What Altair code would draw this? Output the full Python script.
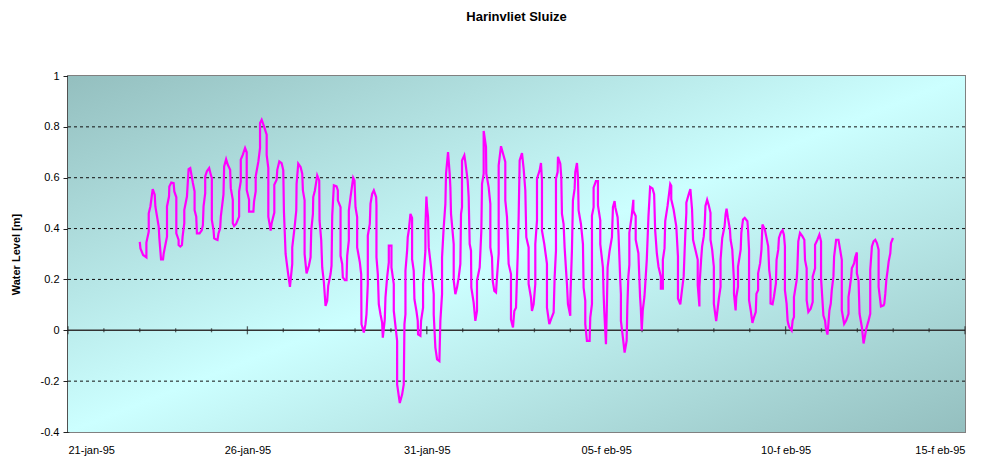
import altair as alt
import pandas as pd

# ---- water level trace (day of January 1995, level in m) ----
days_a = [
    23.000, 23.019, 23.093, 23.185, 23.185, 23.250, 23.250, 23.296, 23.361, 23.417,
    23.435, 23.528, 23.546, 23.593, 23.648, 23.667, 23.759, 23.759, 23.815, 23.824,
    23.880, 23.944, 23.963, 24.019, 24.019, 24.083, 24.083, 24.130, 24.176, 24.194,
    24.241, 24.241, 24.315, 24.361, 24.407, 24.481, 24.528, 24.528, 24.574, 24.593,
    24.667, 24.731, 24.759, 24.778, 24.824, 24.824, 24.870, 24.935, 24.981, 25.009,
    25.009, 25.056, 25.074, 25.120, 25.167, 25.194, 25.241, 25.259, 25.333, 25.352,
    25.407, 25.454, 25.519, 25.537, 25.593, 25.593, 25.630, 25.685, 25.769, 25.769,
    25.815, 25.815, 25.870, 25.935, 25.981, 25.981, 26.046, 26.046, 26.167, 26.185,
    26.231, 26.231, 26.306, 26.352, 26.352, 26.398, 26.463, 26.537, 26.537, 26.583,
    26.583, 26.648, 26.676, 26.750, 26.750, 26.815, 26.833, 26.889, 26.954,
]
levels_a = [
    0.348, 0.322, 0.296, 0.287, 0.345, 0.388, 0.460, 0.487, 0.555, 0.533,
    0.487, 0.408, 0.362, 0.279, 0.279, 0.302, 0.368, 0.487, 0.526, 0.565,
    0.581, 0.579, 0.546, 0.523, 0.381, 0.355, 0.335, 0.329, 0.335, 0.368,
    0.421, 0.473, 0.526, 0.634, 0.638, 0.579, 0.546, 0.473, 0.447, 0.381,
    0.381, 0.394, 0.414, 0.487, 0.539, 0.605, 0.625, 0.638, 0.611, 0.598,
    0.434, 0.394, 0.362, 0.358, 0.355, 0.381, 0.401, 0.447, 0.533, 0.644,
    0.673, 0.651, 0.631, 0.559, 0.513, 0.421, 0.410, 0.418, 0.447, 0.546,
    0.585, 0.671, 0.690, 0.717, 0.700, 0.552, 0.513, 0.467, 0.467, 0.506,
    0.546, 0.605, 0.664, 0.717, 0.815, 0.828, 0.802, 0.769, 0.690, 0.638,
    0.447, 0.392, 0.421, 0.463, 0.572, 0.592, 0.631, 0.664, 0.657,
]

days_b = [
    27.000, 27.019, 27.065, 27.130, 27.186, 27.250, 27.250, 27.315, 27.362, 27.371,
    27.417, 27.482, 27.529, 27.547, 27.594, 27.594, 27.649, 27.714, 27.761, 27.779,
    27.826, 27.835, 27.881, 27.946, 28.002, 28.011, 28.058, 28.085, 28.132, 28.178,
    28.224, 28.252, 28.317, 28.345, 28.364, 28.410, 28.484, 28.521, 28.521, 28.596,
    28.596, 28.642, 28.660, 28.716, 28.763, 28.781, 28.827, 28.827, 28.874, 28.948,
    28.985, 29.013, 29.059, 29.059, 29.134, 29.171, 29.180, 29.245, 29.291, 29.319,
    29.356, 29.356, 29.411, 29.430, 29.477, 29.523, 29.588, 29.597, 29.597, 29.635,
    29.662, 29.709, 29.755, 29.774, 29.829, 29.848, 29.894, 29.941, 29.941, 30.015,
    30.015, 30.080, 30.080, 30.173, 30.173, 30.247, 30.312, 30.358, 30.377, 30.405,
    30.405, 30.451, 30.469, 30.497, 30.544, 30.590, 30.590, 30.636, 30.655, 30.711,
    30.748, 30.757, 30.822, 30.840, 30.896, 30.896, 30.961, 30.961, 30.989, 31.007,
    31.035, 31.054, 31.119, 31.193, 31.193, 31.239, 31.286, 31.351, 31.378, 31.425,
    31.425, 31.471, 31.518, 31.536, 31.592, 31.638, 31.657, 31.675, 31.750, 31.750,
    31.796, 31.842, 31.889, 31.935, 31.954, 31.981, 31.981, 32.046, 32.074, 32.139,
    32.167, 32.195, 32.232, 32.241, 32.306, 32.353,
]
levels_b = [
    0.629, 0.464, 0.300, 0.228, 0.171, 0.261, 0.326, 0.405, 0.471, 0.576,
    0.655, 0.642, 0.616, 0.550, 0.511, 0.300, 0.224, 0.254, 0.287, 0.392,
    0.458, 0.524, 0.550, 0.609, 0.589, 0.432, 0.353, 0.247, 0.188, 0.096,
    0.116, 0.175, 0.221, 0.254, 0.451, 0.570, 0.566, 0.550, 0.511, 0.484,
    0.293, 0.261, 0.208, 0.197, 0.197, 0.293, 0.353, 0.471, 0.524, 0.600,
    0.589, 0.484, 0.445, 0.326, 0.267, 0.221, 0.024, -0.009, 0.024, 0.063,
    0.182, 0.372, 0.418, 0.497, 0.537, 0.550, 0.524, 0.491, 0.287, 0.221,
    0.103, 0.063, 0.030, -0.029, 0.043, 0.129, 0.208, 0.267, 0.333, 0.333,
    0.247, 0.182, 0.076, -0.042, -0.213, -0.286, -0.253, -0.213, 0.024, 0.063,
    0.234, 0.313, 0.366, 0.392, 0.458, 0.442, 0.280, 0.234, 0.122, 0.076,
    0.037, -0.016, -0.022, 0.037, 0.089, 0.182, 0.313, 0.405, 0.526, 0.484,
    0.445, 0.326, 0.247, 0.142, 0.063, -0.068, -0.114, -0.121, 0.037, 0.142,
    0.287, 0.405, 0.497, 0.616, 0.701, 0.616, 0.563, 0.458, 0.339, 0.195,
    0.142, 0.168, 0.208, 0.261, 0.458, 0.484, 0.668, 0.688, 0.662, 0.589,
    0.524, 0.339, 0.313, 0.168, 0.109, 0.037,
]

days_c = [
    32.399, 32.399, 32.474, 32.520, 32.539, 32.585, 32.585, 32.650, 32.659, 32.724,
    32.771, 32.771, 32.817, 32.836, 32.882, 32.929, 32.956, 33.003, 33.003, 33.068,
    33.124, 33.188, 33.188, 33.235, 33.281, 33.346, 33.346, 33.402, 33.439, 33.486,
    33.513, 33.532, 33.560, 33.588, 33.653, 33.699, 33.746, 33.773, 33.838, 33.838,
    33.903, 33.931, 33.978, 34.024, 34.024, 34.071, 34.071, 34.145, 34.182, 34.210,
    34.210, 34.275, 34.349, 34.349, 34.414, 34.461, 34.535, 34.563, 34.600, 34.600,
    34.646, 34.656, 34.721, 34.748, 34.767, 34.813, 34.841, 34.888, 34.906, 34.934,
    34.999, 34.999, 35.045, 35.073, 35.120, 35.138, 35.185, 35.213, 35.231, 35.296,
    35.352, 35.370, 35.417, 35.417, 35.463, 35.538, 35.556, 35.603, 35.603, 35.649,
    35.649, 35.714, 35.770, 35.770, 35.835, 35.835, 35.909, 35.928, 35.946, 35.993,
    36.020, 36.039, 36.095, 36.160, 36.188, 36.234, 36.253, 36.318, 36.345, 36.392,
    36.410, 36.410, 36.466, 36.513,
]
levels_c = [
    0.076, 0.195, 0.247, 0.392, 0.576, 0.616, 0.784, 0.721, 0.616, 0.563,
    0.497, 0.326, 0.287, 0.195, 0.155, 0.149, 0.208, 0.300, 0.649, 0.724,
    0.695, 0.662, 0.511, 0.445, 0.261, 0.221, 0.043, 0.011, 0.076, 0.089,
    0.208, 0.287, 0.445, 0.668, 0.697, 0.636, 0.550, 0.366, 0.326, 0.182,
    0.129, 0.076, 0.103, 0.182, 0.339, 0.432, 0.596, 0.629, 0.658, 0.589,
    0.392, 0.339, 0.261, 0.089, 0.024, 0.043, 0.070, 0.208, 0.313, 0.596,
    0.622, 0.682, 0.655, 0.603, 0.458, 0.418, 0.326, 0.221, 0.182, 0.103,
    0.057, 0.116, 0.313, 0.511, 0.557, 0.622, 0.658, 0.603, 0.471, 0.418,
    0.339, 0.168, 0.116, 0.024, -0.042, -0.042, 0.050, 0.103, 0.451, 0.484,
    0.561, 0.587, 0.587, 0.491, 0.432, 0.339, 0.247, 0.142, 0.076, -0.055,
    0.103, 0.247, 0.313, 0.366, 0.484, 0.508, 0.484, 0.445, 0.372, 0.195,
    0.142, 0.037, -0.029, -0.088,
]

days_d = [
    36.570, 36.589, 36.617, 36.645, 36.645, 36.710, 36.757, 36.757, 36.822, 36.822,
    36.897, 36.944, 36.963, 36.991, 37.019, 37.065, 37.084, 37.131, 37.178, 37.224,
    37.290, 37.336, 37.364, 37.411, 37.458, 37.523, 37.523, 37.579, 37.579, 37.626,
    37.645, 37.710, 37.785, 37.813, 37.813, 37.879, 37.953, 38.000, 38.000, 38.065,
    38.112, 38.159, 38.187, 38.206, 38.234, 38.234, 38.299, 38.346, 38.393, 38.421,
    38.486, 38.551, 38.551, 38.598, 38.598, 38.645, 38.673, 38.720, 38.748, 38.766,
    38.813, 38.860, 38.907, 38.907, 38.953, 39.000, 39.000, 39.065, 39.112, 39.140,
    39.187, 39.187, 39.234, 39.299, 39.327, 39.355, 39.393, 39.449, 39.467, 39.514,
    39.561, 39.561, 39.607, 39.626, 39.673, 39.673, 39.748, 39.766, 39.813, 39.860,
    39.935, 39.953, 39.981, 39.981, 40.028, 40.075, 40.121, 40.168, 40.187, 40.234,
    40.234, 40.290, 40.327, 40.355,
]
levels_d = [
    -0.041, 0.091, 0.211, 0.257, 0.383, 0.449, 0.513, 0.469, 0.449, 0.356,
    0.303, 0.131, 0.091, -0.001, 0.078, 0.131, 0.171, 0.277, 0.449, 0.564,
    0.558, 0.535, 0.396, 0.303, 0.250, 0.211, 0.164, 0.164, 0.277, 0.323,
    0.429, 0.489, 0.575, 0.568, 0.515, 0.475, 0.409, 0.290, 0.125, 0.102,
    0.158, 0.211, 0.317, 0.383, 0.462, 0.502, 0.535, 0.555, 0.475, 0.356,
    0.317, 0.277, 0.177, 0.094, 0.171, 0.277, 0.330, 0.370, 0.423, 0.489,
    0.513, 0.491, 0.462, 0.356, 0.317, 0.250, 0.105, 0.036, 0.091, 0.125,
    0.171, 0.277, 0.363, 0.409, 0.456, 0.478, 0.442, 0.396, 0.356, 0.317,
    0.197, 0.144, 0.078, 0.131, 0.171, 0.250, 0.317, 0.383, 0.436, 0.442,
    0.429, 0.396, 0.317, 0.118, 0.078, 0.029, 0.052, 0.072, 0.144, 0.158,
    0.224, 0.264, 0.317, 0.416,
]

days_e = [
    40.422, 40.515, 40.543, 40.580, 40.580, 40.636, 40.674, 40.730, 40.748, 40.795,
    40.814, 40.869, 40.916, 40.953, 40.981, 40.981, 41.028, 41.056, 41.075, 41.103,
    41.168, 41.196, 41.233, 41.233, 41.308, 41.326, 41.354, 41.401, 41.466, 41.522,
    41.541, 41.587, 41.587, 41.634, 41.699, 41.755, 41.755, 41.821, 41.821, 41.886,
    41.942, 41.988, 41.988, 42.054, 42.100, 42.119, 42.166, 42.193, 42.221, 42.259,
    42.287, 42.333, 42.352, 42.408, 42.473, 42.520, 42.566, 42.566, 42.632, 42.688,
    42.753, 42.753, 42.781, 42.828, 42.846, 42.911, 42.939, 42.986, 42.986, 43.033,
    43.061, 43.126, 43.173, 43.247, 43.312, 43.359, 43.359, 43.406, 43.452, 43.499,
    43.545, 43.592, 43.592, 43.657, 43.732, 43.751, 43.779, 43.807, 43.844, 43.872,
    43.918, 43.937, 43.993,
]
levels_e = [
    0.396, 0.330, 0.237, 0.197, 0.105, 0.102, 0.131, 0.184, 0.277, 0.317,
    0.363, 0.385, 0.393, 0.376, 0.330, 0.158, 0.105, 0.038, 0.025, 0.012,
    -0.001, 0.038, 0.052, 0.131, 0.197, 0.237, 0.350, 0.383, 0.370, 0.356,
    0.277, 0.244, 0.118, 0.072, 0.085, 0.111, 0.211, 0.244, 0.336, 0.356,
    0.376, 0.350, 0.204, 0.058, 0.038, 0.012, -0.017, 0.025, 0.078, 0.105,
    0.158, 0.211, 0.290, 0.356, 0.356, 0.317, 0.277, 0.078, 0.025, 0.038,
    0.065, 0.131, 0.158, 0.211, 0.244, 0.264, 0.287, 0.306, 0.224, 0.197,
    0.065, 0.012, -0.052, 0.005, 0.038, 0.065, 0.237, 0.330, 0.350, 0.356,
    0.343, 0.317, 0.171, 0.094, 0.098, 0.105, 0.144, 0.197, 0.237, 0.270,
    0.303, 0.343, 0.363,
]

# ---- axes ----
x_tick_values = [21, 26, 31, 36, 41, 46]
x_tick_labels = ["21-jan-95", "26-jan-95", "31-jan-95", "05-f eb-95", "10-f eb-95", "15-f eb-95"]
y_tick_values = [-0.4, -0.2, 0, 0.2, 0.4, 0.6, 0.8, 1]
grid_values = [-0.2, 0.2, 0.4, 0.6, 0.8]
day_marks = list(range(21, 47))

days = days_a + days_b + days_c + days_d + days_e
levels = levels_a + levels_b + levels_c + levels_d + levels_e
df = pd.DataFrame({"day": days, "level": levels})
df["order"] = range(len(df))

W, H = 897, 356
FONT = "Liberation Sans"

label_expr = " : ".join(
    f"datum.value == {v} ? '{t}'" for v, t in zip(x_tick_values, x_tick_labels)
) + " : ''"

xscale = alt.Scale(domain=[21, 46], nice=False, zero=False)
yscale = alt.Scale(domain=[-0.4, 1], nice=False, zero=False)

x_axis = alt.Axis(
    values=x_tick_values, labelExpr=label_expr, title=None,
    domain=False, ticks=False, grid=False, labelPadding=12,
    labelFont=FONT, labelFontSize=11, labelColor="#000000",
)
y_axis = alt.Axis(
    values=y_tick_values, labelExpr="datum.value + ''",
    title="Water Level [m]", titleFont=FONT, titleFontSize=11,
    titleFontWeight="bold", titleColor="#000000",
    titleX=-52, titleY=H / 2, titleAngle=-90, titleAlign="center",
    titleBaseline="middle",
    grid=False, domainColor="#222222", domainWidth=2,
    tickColor="#222222", tickSize=5, labelPadding=4,
    labelFont=FONT, labelFontSize=11, labelColor="#000000",
)

background = alt.Chart(alt.Data(values=[{"k": 1}])).mark_rect(
    fill=alt.Gradient(
        gradient="linear", x1=0, y1=0, x2=1, y2=1,
        stops=[
            alt.GradientStop(color="#94bfbf", offset=0),
            alt.GradientStop(color="#ccffff", offset=0.5),
            alt.GradientStop(color="#94bfbf", offset=1),
        ],
    ),
    strokeWidth=0,
).encode(x=alt.value(0), x2=alt.value(W), y=alt.value(0), y2=alt.value(H))

grid = alt.Chart(pd.DataFrame({"g": grid_values})).mark_rule(
    color="#111111", strokeDash=[3, 3], strokeWidth=1
).encode(y=alt.Y("g:Q", scale=yscale, axis=y_axis, title="Water Level [m]"))

zero_line = alt.Chart(alt.Data(values=[{"k": 1}])).mark_rule(
    color="#333333", strokeWidth=1.5
).encode(y=alt.datum(0, scale=yscale, axis=y_axis, title="Water Level [m]"))

marks_df = pd.DataFrame({"d": day_marks})
marks_df["major"] = marks_df["d"].isin(x_tick_values)
day_ticks = alt.Chart(marks_df).mark_tick(
    color="#222222", thickness=1.3, orient="vertical"
).encode(
    x=alt.X("d:Q", scale=xscale, axis=x_axis, title=None),
    y=alt.datum(0, scale=yscale, axis=y_axis, title="Water Level [m]"),
    size=alt.condition("datum.major", alt.value(8), alt.value(4)),
)

line = alt.Chart(df).mark_line(color="#ff00ff", strokeWidth=2.2).encode(
    x=alt.X("day:Q", scale=xscale, axis=x_axis, title=None),
    y=alt.Y("level:Q", scale=yscale, axis=y_axis, title="Water Level [m]"),
    order="order:Q",
)

chart = alt.layer(background, grid, zero_line, day_ticks, line).properties(
    width=W,
    height=H,
    autosize="none",
    padding={"left": 60, "top": 68, "right": 22, "bottom": 30},
    title=alt.TitleParams(
        "Harinvliet Sluize", font=FONT, fontSize=13, fontWeight="bold",
        color="#000000", anchor="middle", offset=46,
    ),
).configure_view(stroke="#808080", strokeWidth=2)

chart.save("out.html", embed_options={"renderer": "svg", "actions": False})
